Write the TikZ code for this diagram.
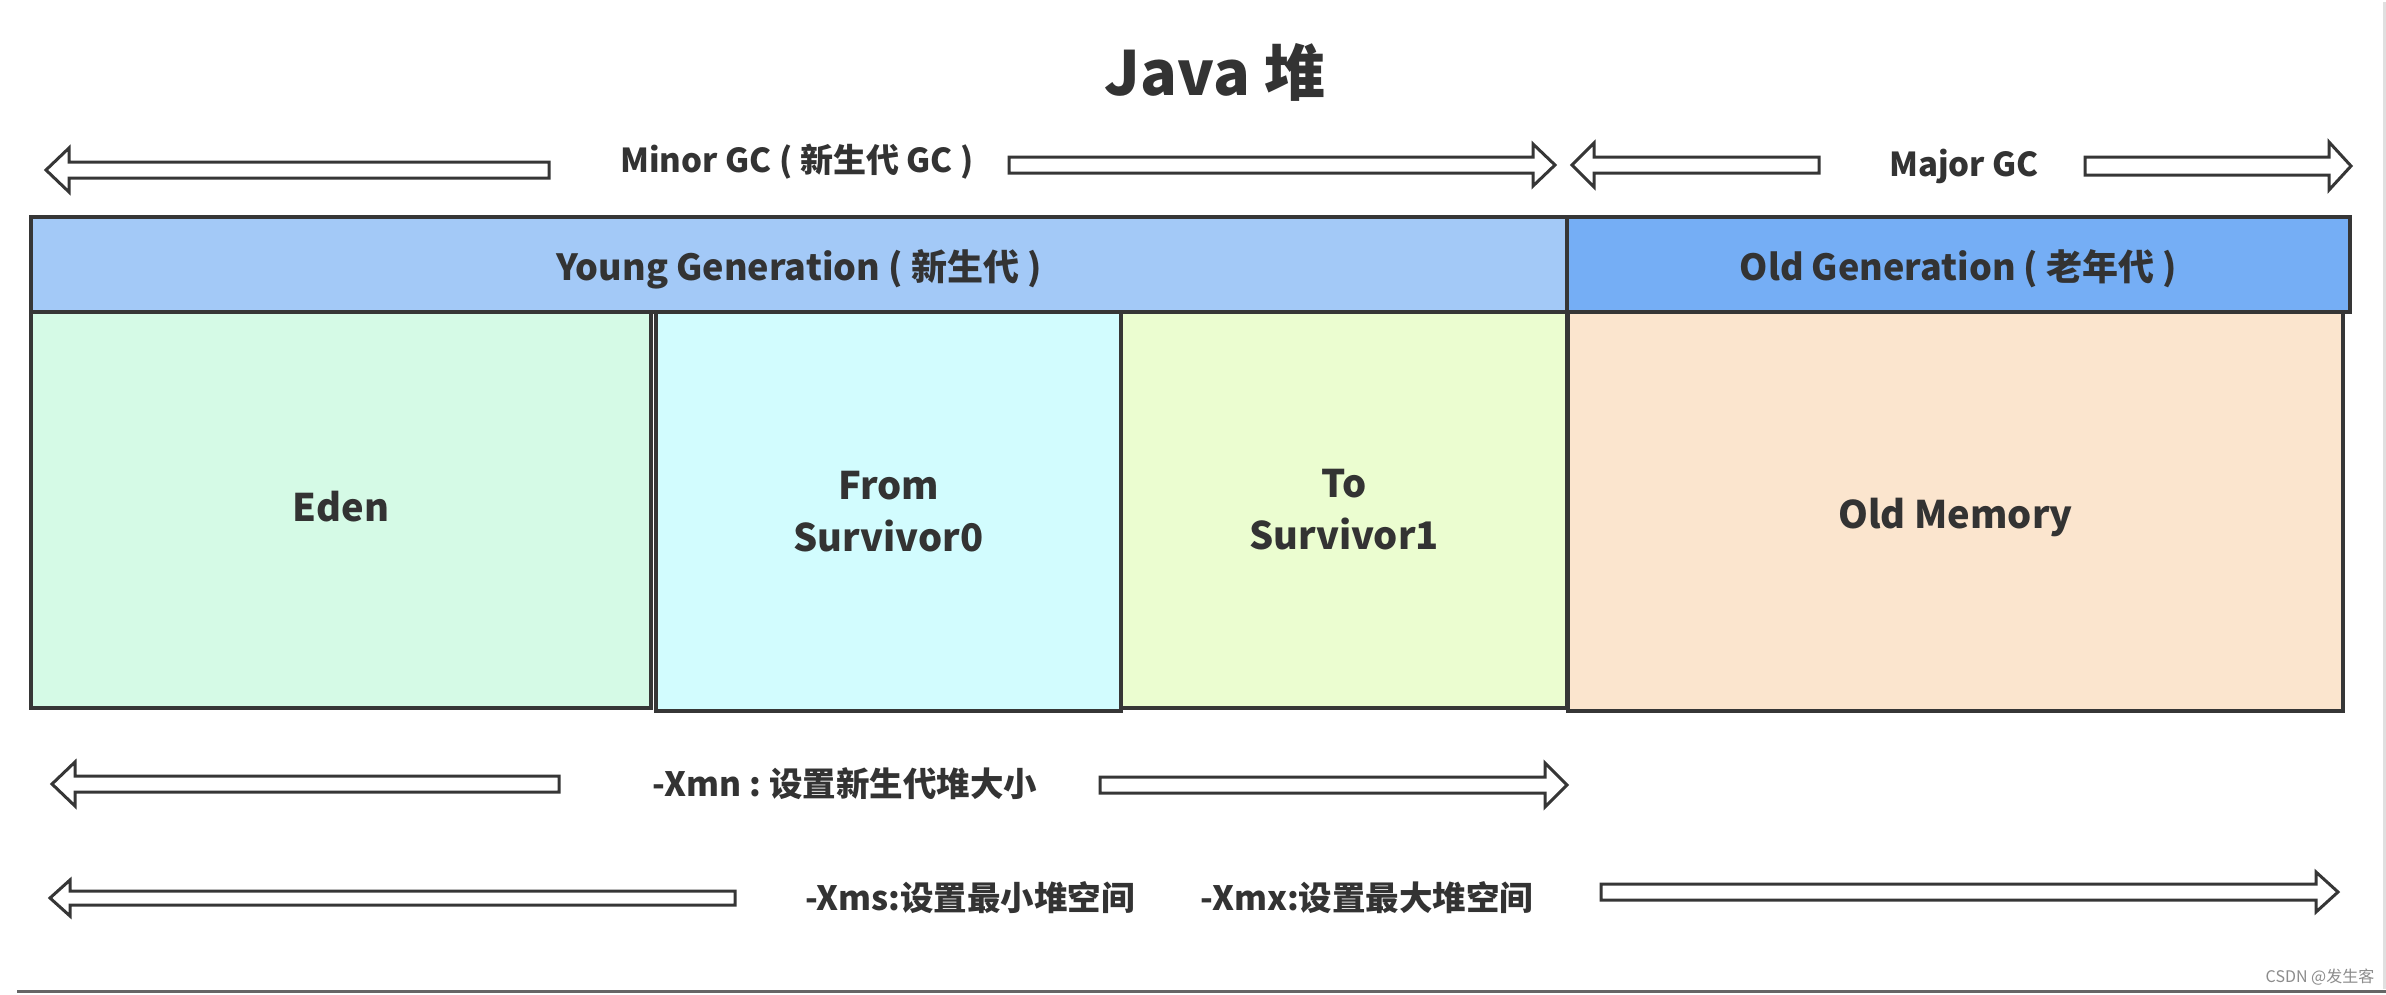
\documentclass[tikz,border=0pt]{standalone}
\usepackage{fontspec}
\setmainfont{Noto Sans CJK SC}
\definecolor{txt}{HTML}{333333}
\definecolor{edge}{HTML}{363636}
\definecolor{younghd}{HTML}{A3C9F7}
\definecolor{oldhd}{HTML}{75AEF5}
\definecolor{edenc}{HTML}{D5FAE6}
\definecolor{fromc}{HTML}{D2FCFE}
\definecolor{toc}{HTML}{EBFDD0}
\definecolor{oldc}{HTML}{FBE5CE}
\newcommand{\myLarrow}[6]{% tip, tail, y, shaft half, head half, head length
  \draw[blockarr] (#1,#3) -- (#1+#6,#3-#5) -- (#1+#6,#3-#4) -- (#2,#3-#4) -- (#2,#3+#4) -- (#1+#6,#3+#4) -- (#1+#6,#3+#5) -- cycle;}
\newcommand{\myRarrow}[6]{% tail, tip, y, shaft half, head half, head length
  \draw[blockarr] (#2,#3) -- (#2-#6,#3-#5) -- (#2-#6,#3-#4) -- (#1,#3-#4) -- (#1,#3+#4) -- (#2-#6,#3+#4) -- (#2-#6,#3+#5) -- cycle;}
\newcommand{\myshiftv}[2]{\raisebox{#1}[\height][\depth]{#2}}
\begin{document}
\begin{tikzpicture}[x=1pt,y=-1pt,
  blockarr/.style={draw=edge, fill=white, line width=3pt, line join=miter},
  area/.style={draw=edge, line width=3.5pt, inner sep=0pt, text=txt, font=\bfseries\fontsize{38}{52}\selectfont, align=center},
  header/.style={area, font=\bfseries\fontsize{36}{44}\selectfont},
  lbl/.style={text=txt, font=\bfseries\fontsize{33}{40}\selectfont, inner sep=0pt},
  lbl2/.style={text=txt, font=\bfseries\fontsize{33.5}{40}\selectfont, inner sep=0pt}]
\useasboundingbox (0,0) rectangle (2386,994);
\fill[white] (0,0) rectangle (2386,994);
% title
\node[text=txt, font=\bfseries\fontsize{61}{72}\selectfont, inner sep=0pt] (title) at (1215,72) {Java 堆};
% GC arrows
\myLarrow{46}{549}{170}{8}{22}{23}
\node[lbl] (minor) at (797,162) {Minor GC ( 新生代 GC )};
\myRarrow{1009}{1555}{165}{8}{21}{22}
\myLarrow{1572}{1819}{165}{8}{22}{22}
\node[lbl] (major) at (1964,166) {Major GC};
\myRarrow{2085}{2351}{166}{9}{24}{22}
% headers
\node[header, fill=younghd, minimum width=1536pt, minimum height=95pt] (young) at (799,264.5) {\myshiftv{-4.5pt}{Young Generation ( 新生代 )}};
\node[header, fill=oldhd, minimum width=783pt, minimum height=95pt] (oldgen) at (1958.5,264.5) {\myshiftv{-4.5pt}{Old Generation ( 老年代 )}};
% memory areas
\node[area, fill=edenc, minimum width=620pt, minimum height=396pt] (eden) at (341,510) {\myshiftv{3pt}{Eden}};
\node[area, fill=fromc, minimum width=465pt, minimum height=399pt] (from) at (888.5,511.5) {From\\Survivor0};
\node[area, fill=toc, minimum width=446pt, minimum height=396pt] (to) at (1344,510) {To\\Survivor1};
\node[area, fill=oldc, minimum width=775pt, minimum height=399pt] (oldmem) at (1955.5,511.5) {\myshiftv{-6pt}{Old Memory}};
% size options
\myLarrow{52}{559}{784}{8}{22}{23}
\node[lbl2] (xmn) at (845,784) {-Xmn\hspace{8pt}:\hspace{8pt}设置新生代堆大小};
\myRarrow{1100}{1567}{785}{8}{22}{22}
\myLarrow{50}{735}{898}{7}{18}{20}
\node[lbl2] (xms) at (970,898) {-Xms:设置最小堆空间};
\node[lbl2] (xmx) at (1367,898) {-Xmx:设置最大堆空间};
\myRarrow{1601}{2338}{892}{8}{20}{22}
% frame remnants and watermark
\draw[color=black!60, line width=3pt] (17,991) -- (2386,991);
\draw[color=black!12, line width=3pt] (2384,2) -- (2384,989);
\node[text=black!45, font=\fontsize{16}{19}\selectfont, inner sep=0pt] (mark) at (2320,977) {CSDN @发生客};
\end{tikzpicture}
\end{document}
